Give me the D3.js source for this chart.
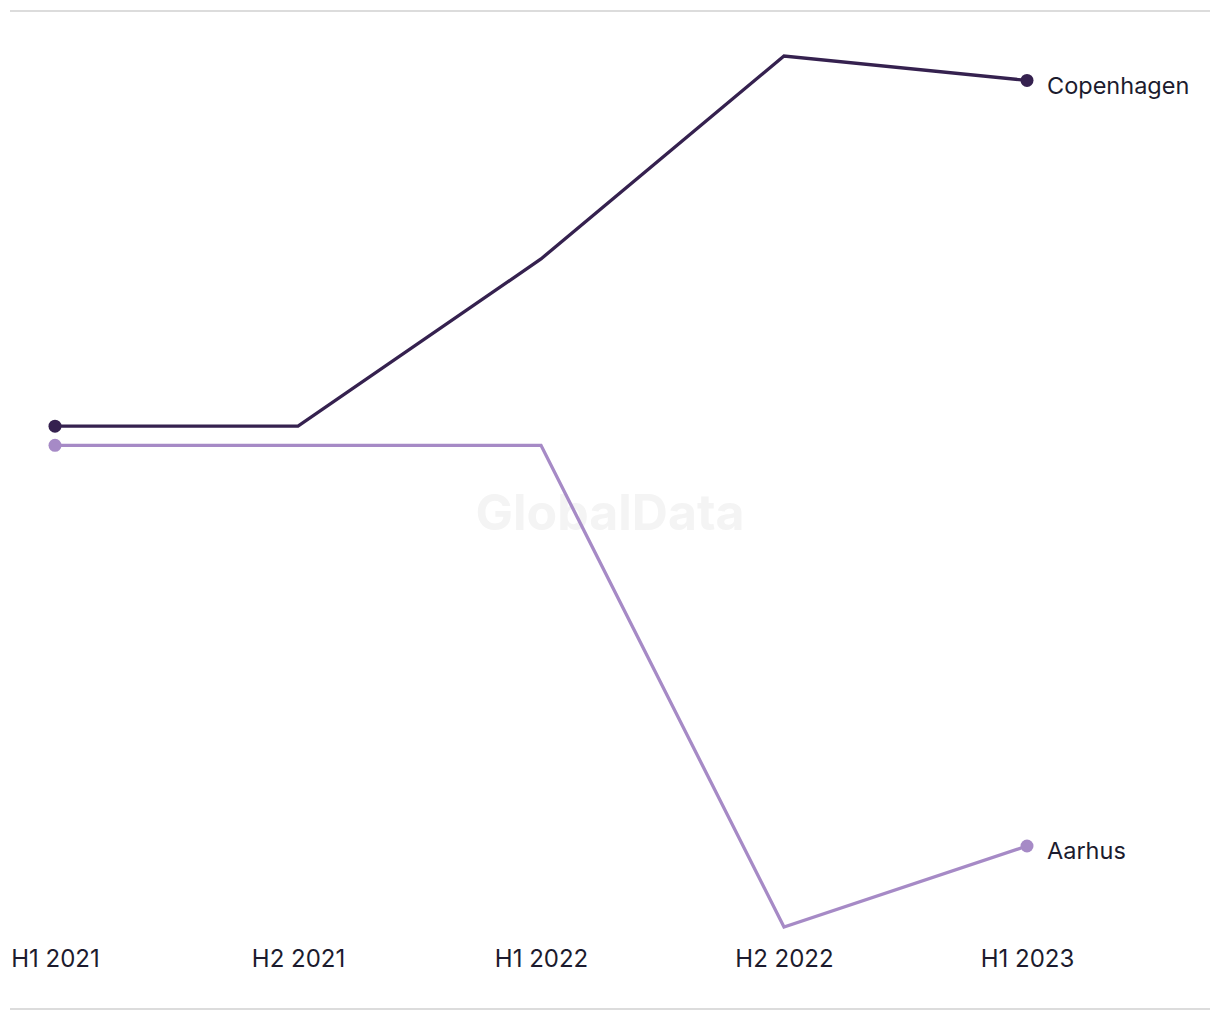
<!DOCTYPE html>
<html>
<head>
<meta charset="utf-8">
<script src="https://cdn.jsdelivr.net/npm/d3@7"></script>
<style>
  html, body { margin: 0; padding: 0; background: #fff; }
  svg { display: block; font-family: Inter, "Open Sans", sans-serif; }
</style>
</head>
<body>
<svg id="chart" width="1220" height="1020"></svg>
<script>
const categories = ["H1 2021", "H2 2021", "H1 2022", "H2 2022", "H1 2023"];
const seriesNames = ["Copenhagen", "Aarhus"];
const copenhagenValues = [57.5, 57.5, 76.7, 100, 97.2];
const aarhusValues = [55.3, 55.3, 55.3, 0, 9.3];
const seriesColors = ["#35214f", "#a68ac6"];

const svg = d3.select("#chart");

const x = d3.scalePoint().domain(categories).range([55, 1027]);
const y = d3.scaleLinear().domain([0, 100]).range([927, 56]);

// frame lines
svg.append("line").attr("x1", 10).attr("x2", 1210).attr("y1", 11).attr("y2", 11)
  .attr("stroke", "#dcdcdc").attr("stroke-width", 2);
svg.append("line").attr("x1", 10).attr("x2", 1210).attr("y1", 1009).attr("y2", 1009)
  .attr("stroke", "#dcdcdc").attr("stroke-width", 2);

// watermark
svg.append("text").attr("x", 610).attr("y", 530).attr("text-anchor", "middle")
  .attr("font-size", 50).attr("font-weight", 700).attr("fill", "#f4f4f4")
  .text("GlobalData");

const series = [
  { name: seriesNames[0], values: copenhagenValues, color: seriesColors[0] },
  { name: seriesNames[1], values: aarhusValues, color: seriesColors[1] }
];

const line = d3.line().x((d, i) => x(categories[i])).y(d => y(d));

series.slice().reverse().forEach(s => {
  svg.append("path").datum(s.values).attr("d", line)
    .attr("fill", "none").attr("stroke", s.color).attr("stroke-width", 3.3)
    .attr("stroke-linejoin", "miter");
  [0, s.values.length - 1].forEach(i => {
    svg.append("circle").attr("cx", x(categories[i])).attr("cy", y(s.values[i]))
      .attr("r", 6.5).attr("fill", s.color);
  });
  const last = s.values.length - 1;
  svg.append("text").attr("x", x(categories[last]) + 20).attr("y", y(s.values[last]) + 5)
    .attr("dy", "0.36em").attr("font-size", 23.5).attr("fill", "#1c1b2e")
    .text(s.name);
});

// x axis labels
const xAxis = d3.axisBottom(x).tickSize(0).tickPadding(0);
const gx = svg.append("g").attr("transform", "translate(0,950)").call(xAxis);
gx.select(".domain").remove();
gx.selectAll("text").attr("font-size", 24).attr("fill", "#1c1b2e")
  .attr("font-family", "Inter, 'Open Sans', sans-serif");
</script>
</body>
</html>
